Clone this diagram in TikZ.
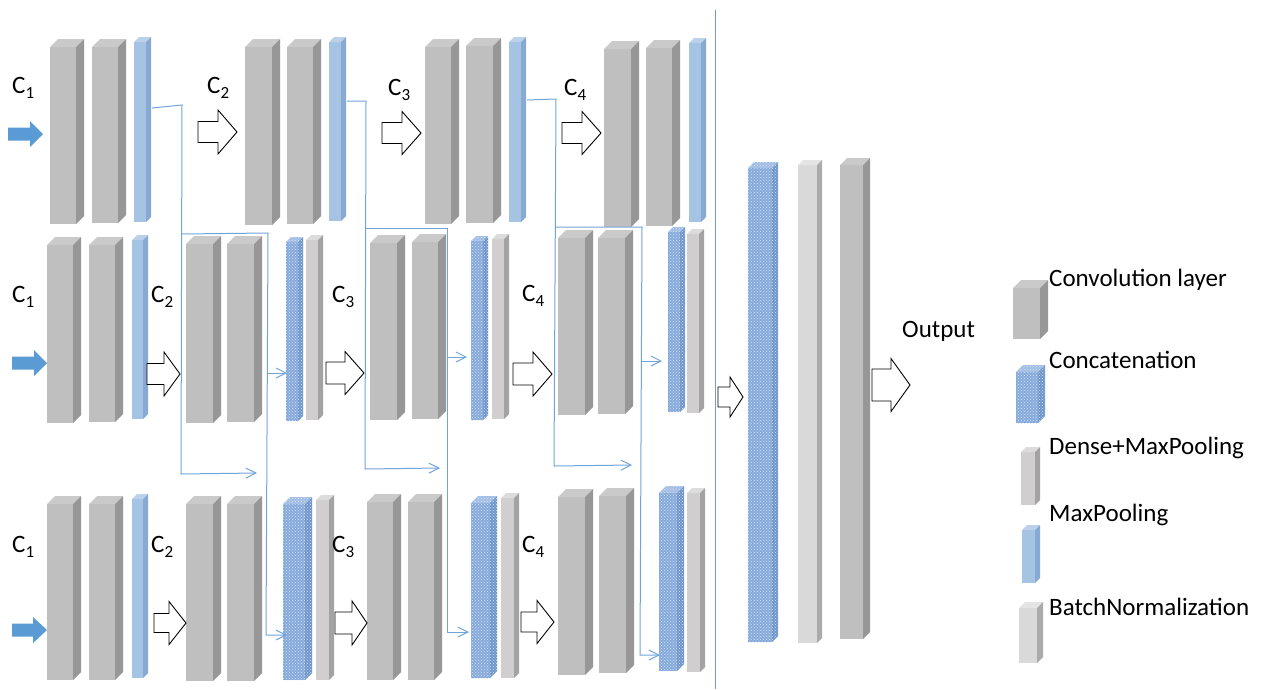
\documentclass[tikz,border=0pt]{standalone}
\usepackage{fontspec}
\setmainfont{Carlito}
\usetikzlibrary{arrows.meta,patterns}
\definecolor{convF}{HTML}{BFBFBF}
\definecolor{convS}{HTML}{979797}
\definecolor{convT}{HTML}{CACACA}
\definecolor{densF}{HTML}{D0CECE}
\definecolor{densS}{HTML}{A3A3A3}
\definecolor{densT}{HTML}{DCDCDC}
\definecolor{bnF}{HTML}{D9D9D9}
\definecolor{bnS}{HTML}{ABABAB}
\definecolor{bnT}{HTML}{E4E4E4}
\definecolor{mpF}{HTML}{A5C3E2}
\definecolor{mpS}{HTML}{88AAD2}
\definecolor{mpT}{HTML}{BBD1EA}
\definecolor{ccF}{HTML}{86AADB}
\definecolor{ccS}{HTML}{6F95CB}
\definecolor{ccT}{HTML}{A2BEE4}
\definecolor{ccD}{HTML}{D6E3F4}
\definecolor{inBlue}{HTML}{5B9BD5}
\definecolor{connBlue}{HTML}{6FA5DC}
\tikzset{
  convfront/.style={fill=convF}, convside/.style={fill=convS}, convtop/.style={fill=convT},
  densfront/.style={fill=densF}, densside/.style={fill=densS}, denstop/.style={fill=densT},
  bnfront/.style={fill=bnF}, bnside/.style={fill=bnS}, bntop/.style={fill=bnT},
  mpfront/.style={fill=mpF}, mpside/.style={fill=mpS}, mptop/.style={fill=mpT},
  ccfront/.style={fill=ccF, postaction={pattern=crosshatch dots, pattern color=ccD}},
  ccside/.style={fill=ccS, postaction={pattern=crosshatch dots, pattern color=ccD}},
  cctop/.style={fill=ccT, postaction={pattern=crosshatch dots, pattern color=ccD}},
  openarr/.style={draw=black, fill=white, line width=0.9pt, line join=miter},
  inarr/.style={fill=inBlue},
  conn/.style={draw=connBlue, line width=1pt, -{Straight Barb[length=10pt,width=10pt]}},
  clab/.style={font=\fontsize{25}{29}\selectfont, inner sep=0pt, anchor=base west},
  legtext/.style={font=\fontsize{25}{30}\selectfont, inner sep=0pt, anchor=base west}
}
% cuboid: x1, y1 (front top), x2, y2 (front bottom), depth, kind
\newcommand\cub[6]{%
  \path[#6front] (#1,#2) rectangle (#3,#4);
  \path[#6top] (#1,#2) -- ({#1+#5},{#2-#5}) -- ({#3+#5},{#2-#5}) -- (#3,#2) -- cycle;
  \path[#6side] (#3,#2) -- ({#3+#5},{#2-#5}) -- ({#3+#5},{#4-#5}) -- (#3,#4) -- cycle;
}
% block arrow: style, tail x, head x, tip x, centre y, shaft half, head half
\newcommand\barrow[7]{%
  \path[#1] (#2,{#5-#6}) -- (#3,{#5-#6}) -- (#3,{#5-#7}) -- (#4,#5) -- (#3,{#5+#7}) -- (#3,{#5+#6}) -- (#2,{#5+#6}) -- cycle;
}
\newcommand\sbx[1]{\raisebox{-5pt}{\fontsize{17}{17}\selectfont #1}}
\begin{document}
\begin{tikzpicture}[x=1pt,y=-1pt]
\useasboundingbox (0,0) rectangle (1261,689);
\fill[white] (0,0) rectangle (1261,689);

% ---------- row 1 ----------
\cub{50}{47}{76}{224}{8}{conv}
\cub{92}{47}{118}{223}{8}{conv}
\cub{134}{42}{146}{222}{5}{mp}
\cub{245}{47}{272}{225}{8}{conv}
\cub{287}{47}{313}{224}{8}{conv}
\cub{329}{42}{341}{221}{5}{mp}
\cub{425}{47}{451}{224}{8}{conv}
\cub{466}{46}{493}{223}{8}{conv}
\cub{509}{42}{521}{222}{5}{mp}
\cub{604}{49}{631}{227}{8}{conv}
\cub{646}{48}{672}{226}{8}{conv}
\cub{689}{43}{701}{222}{5}{mp}

% ---------- row 2 ----------
\cub{47}{245}{73}{423}{8}{conv}
\cub{89}{245}{115}{422}{8}{conv}
\cub{132}{240}{143}{419}{5}{mp}
\cub{186}{244}{213}{423}{8}{conv}
\cub{227}{244}{254}{422}{8}{conv}
\cub{286}{242}{298}{421}{5}{cc}
\cub{306}{240}{318}{420}{5}{dens}
\cub{370}{243}{397}{420}{8}{conv}
\cub{412}{242}{438}{419}{8}{conv}
\cub{471}{241}{483}{420}{5}{cc}
\cub{492}{239}{504}{419}{5}{dens}
\cub{558}{238}{585}{415}{8}{conv}
\cub{598}{238}{625}{414}{8}{conv}
\cub{668}{232}{680}{412}{5}{cc}
\cub{687}{234}{699}{413}{5}{dens}

% ---------- row 3 ----------
\cub{47}{504}{73}{680}{8}{conv}
\cub{89}{504}{115}{680}{8}{conv}
\cub{132}{499}{143}{678}{5}{mp}
\cub{186}{504}{213}{681}{8}{conv}
\cub{227}{504}{254}{681}{8}{conv}
\cub{283}{504}{305}{680}{7}{cc}
\cub{316}{500}{329}{680}{5}{dens}
\cub{367}{502}{393}{680}{8}{conv}
\cub{408}{502}{434}{680}{8}{conv}
\cub{471}{503}{490}{678}{7}{cc}
\cub{501}{498}{514}{678}{5}{dens}
\cub{558}{497}{585}{675}{8}{conv}
\cub{599}{496}{626}{673}{8}{conv}
\cub{659}{493}{677}{671}{7}{cc}
\cub{687}{493}{700}{672}{5}{dens}

% ---------- merged part ----------
\cub{748}{168}{772}{642}{6}{cc}
\cub{798}{165}{817}{643}{5}{bn}
\cub{840}{165}{863}{639}{7}{conv}

% ---------- legend ----------
\cub{1013}{288}{1040}{339}{8}{conv}
\cub{1016}{372}{1038}{423}{7}{cc}
\cub{1021}{452}{1035}{505}{5}{dens}
\cub{1022}{530}{1035}{583}{5}{mp}
\cub{1019}{608}{1037}{663}{6}{bn}
\node[legtext] (lconv) at (1049,286) {Convolution layer};
\node[legtext] (lcc) at (1049,368) {Concatenation};
\node[legtext] (ldens) at (1049,454) {Dense+MaxPooling};
\node[legtext] (lmp) at (1049,521) {MaxPooling};
\node[legtext] (lbn) at (1049,615) {BatchNormalization};
\node[legtext] (out) at (902,337) {Output};

% ---------- input arrows ----------
\barrow{inarr}{8}{30}{43}{134}{6.5}{13}
\barrow{inarr}{12}{34}{47}{363}{6.5}{13}
\barrow{inarr}{12}{33}{47}{630}{6.5}{13}

% ---------- open block arrows ----------
\barrow{openarr}{198}{218}{237}{132}{10.5}{22}
\barrow{openarr}{382}{402}{421}{133}{10.5}{21.5}
\barrow{openarr}{562}{582}{601}{133}{10.5}{21.5}
\barrow{openarr}{147}{164}{180}{374}{10.5}{22}
\barrow{openarr}{326}{345}{364}{373}{11}{21.5}
\barrow{openarr}{513}{533}{552}{374}{11}{22}
\barrow{openarr}{154}{169}{186}{623}{9.5}{21.5}
\barrow{openarr}{335}{352}{367}{623}{11}{22}
\barrow{openarr}{521}{537}{554}{622}{10}{21.5}
\barrow{openarr}{718}{730}{743}{397}{10}{20}
\barrow{openarr}{872}{891}{910}{385}{16}{26.5}

% ---------- labels ----------
\node[clab] (r1c1) at (12,93) {C\sbx{1}};
\node[clab] (r1c2) at (207,93) {C\sbx{2}};
\node[clab] (r1c3) at (388,95) {C\sbx{3}};
\node[clab] (r1c4) at (564,95) {C\sbx{4}};
\node[clab] (r2c1) at (12,302) {C\sbx{1}};
\node[clab] (r2c2) at (151,302) {C\sbx{2}};
\node[clab] (r2c3) at (332,302) {C\sbx{3}};
\node[clab] (r2c4) at (522,301) {C\sbx{4}};
\node[clab] (r3c1) at (12,552) {C\sbx{1}};
\node[clab] (r3c2) at (151,552) {C\sbx{2}};
\node[clab] (r3c3) at (332,552) {C\sbx{3}};
\node[clab] (r3c4) at (522,552) {C\sbx{4}};

% ---------- separator ----------
\coordinate (sepT) at (715,10);
\coordinate (sepB) at (715,689);
\draw[draw=connBlue!80!gray, line width=1pt] (sepT) -- (sepB);

% ---------- skip connectors ----------
\coordinate (a0) at (152,108); \coordinate (a1) at (182,105);
\coordinate (a2) at (181,474); \coordinate (a3) at (257,473);
\coordinate (b0) at (181,234); \coordinate (b1) at (268,233);
\coordinate (b2) at (266,635); \coordinate (b3) at (287,635);
\coordinate (b4) at (267,373); \coordinate (b5) at (287,373);
\draw[conn] (a0) -- (a1) -- (a2) -- (a3);
\draw[conn] (b0) -- (b1) -- (b2) -- (b3);
\draw[conn] (b4) -- (b5);

\coordinate (c0) at (347,101); \coordinate (c1) at (366,101);
\coordinate (c2) at (365,469); \coordinate (c3) at (440,468);
\coordinate (d0) at (365,228); \coordinate (d1) at (447,228);
\coordinate (d2) at (447,632); \coordinate (d3) at (469,632);
\coordinate (d4) at (447,357); \coordinate (d5) at (467,357);
\draw[conn] (c0) -- (c1) -- (c2) -- (c3);
\draw[conn] (d0) -- (d1) -- (d2) -- (d3);
\draw[conn] (d4) -- (d5);

\coordinate (e0) at (527,100); \coordinate (e1) at (556,99);
\coordinate (e2) at (554,466); \coordinate (e3) at (632,465);
\coordinate (f0) at (555,227); \coordinate (f1) at (642,227);
\coordinate (f2) at (640,655); \coordinate (f3) at (660,655);
\coordinate (f4) at (641,361); \coordinate (f5) at (662,361);
\draw[conn] (e0) -- (e1) -- (e2) -- (e3);
\draw[conn] (f0) -- (f1) -- (f2) -- (f3);
\draw[conn] (f4) -- (f5);
\end{tikzpicture}
\end{document}
